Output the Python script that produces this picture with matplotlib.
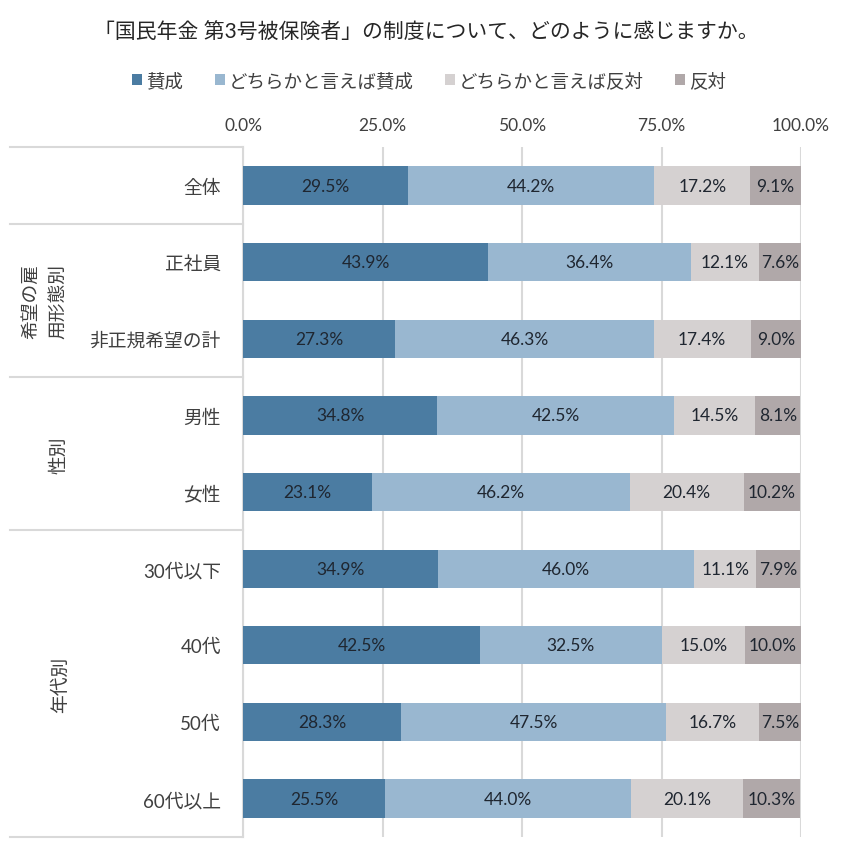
import numpy as np
import matplotlib.pyplot as plt

plt.rcParams['font.family'] = ['Lato', 'Noto Sans CJK JP', 'DejaVu Sans']

categories = ['全体', '正社員', '非正規希望の計', '男性', '女性',
              '30代以下', '40代', '50代', '60代以上']
series_names = ['賛成', 'どちらかと言えば賛成', 'どちらかと言えば反対', '反対']
agree = [29.5, 43.9, 27.3, 34.8, 23.1, 34.9, 42.5, 28.3, 25.5]
rather_agree = [44.2, 36.4, 46.3, 42.5, 46.2, 46.0, 32.5, 47.5, 44.0]
rather_disagree = [17.2, 12.1, 17.4, 14.5, 20.4, 11.1, 15.0, 16.7, 20.1]
disagree = [9.1, 7.6, 9.0, 8.1, 10.2, 7.9, 10.0, 7.5, 10.3]
groups = [('希望の雇\n用形態別', 1, 2, -0.355), ('性別', 3, 4, -0.33), ('年代別', 5, 8, -0.327)]
xticks = [0, 25, 50, 75, 100]

colors = ['#4B7CA2', '#99B7D0', '#D5D1D1', '#B0A8A9']

fig = plt.figure(figsize=(8.53, 8.62), dpi=100)
ax = fig.add_axes([0.285, 0.028, 0.654, 0.800])

y = np.arange(len(categories))
data = [agree, rather_agree, rather_disagree, disagree]
left = np.zeros(len(categories))
for vals, c, name in zip(data, colors, series_names):
    vals = np.array(vals)
    ax.barh(y, vals, left=left, height=0.5, color=c, label=name, zorder=3)
    for yi, l, v in zip(y, left, vals):
        ax.text(l + v / 2, yi, f'{v:.1f}%', ha='center', va='center',
                fontsize=12.5, color='#1F2630', zorder=4)
    left += vals

ax.set_xlim(0, 100)
ax.set_ylim(len(categories) - 0.5, -0.5)
ax.xaxis.tick_top()
ax.set_xticks(xticks)
ax.set_xticklabels([f'{t:.1f}%' for t in xticks], fontsize=12.5, color='#404040')
ax.tick_params(axis='x', length=0, pad=10)
ax.set_yticks(y)
ax.set_yticklabels(categories, fontsize=13.5, color='#404040')
ax.tick_params(axis='y', length=0, pad=16)
ax.grid(axis='x', color='#D9D9D9', linewidth=1.5, zorder=0)
for s in ['top', 'right', 'bottom']:
    ax.spines[s].set_visible(False)
ax.spines['left'].set_color('#D9D9D9')
ax.spines['left'].set_linewidth(1.5)

# group separators on the left
x0 = -0.4176
for b in [-0.5, 0.5, 2.5, 4.5, 8.5]:
    ax.plot([x0, 0], [b, b], transform=ax.get_yaxis_transform(),
            color='#D9D9D9', linewidth=1.5, clip_on=False)
for label, a, b, gx in groups:
    ax.text(gx, (a + b) / 2, label, transform=ax.get_yaxis_transform(),
            rotation=90, ha='center', va='center', fontsize=13.5,
            color='#404040', linespacing=1.75)

fig.text(0.5, 0.962, '「国民年金 第3号被保険者」の制度について、どのように感じますか。',
         ha='center', va='center', fontsize=15, color='#262626')
fig.legend(loc='center', bbox_to_anchor=(0.503, 0.906), ncol=4, frameon=False,
           fontsize=13.3, handlelength=0.55, handleheight=0.55, handletextpad=0.2,
           columnspacing=1.7, labelcolor='#404040')

fig.savefig('out.png', dpi=100)
